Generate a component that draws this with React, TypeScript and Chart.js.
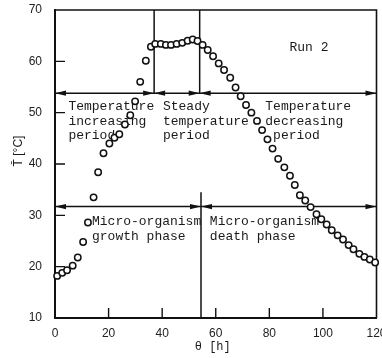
import React, { useEffect, useRef } from "react";
import { Chart, registerables } from "chart.js";

Chart.register(...registerables);

// θ [h]
const thetaHours = [
  0.8, 2.7, 4.5, 6.6, 8.5, 10.5, 12.3, 14.4, 16.1, 18.1,
  20.3, 22.2, 24.0, 26.1, 28.1, 29.9, 31.8, 33.9, 35.8, 37.4,
  39.5, 41.4, 43.3, 45.4, 47.5, 49.5, 51.4, 53.2, 55.1, 57.0,
  59.0, 61.1, 63.1, 65.4, 67.4, 69.3, 71.3, 73.3, 75.4, 77.3,
  79.3, 81.2, 83.3, 85.6, 87.7, 89.5, 91.4, 93.4, 95.4, 97.6,
  99.4, 101.4, 103.3, 105.5, 107.5, 109.6, 111.4, 113.6, 115.5, 117.5,
  119.5,
];
// mean temperature T̄ [°C]
const meanTemp = [
  18.2, 18.8, 19.3, 20.2, 21.8, 24.8, 28.6, 33.5, 38.4, 42.1,
  44.0, 45.1, 45.8, 47.7, 49.5, 52.2, 56.0, 60.1, 62.85, 63.4,
  63.4, 63.2, 63.2, 63.4, 63.6, 64.0, 64.25, 63.95, 63.2, 62.2,
  61.0, 59.6, 58.3, 56.8, 54.9, 53.2, 51.5, 50.0, 48.4, 46.6,
  44.8, 43.0, 41.0, 39.35, 37.7, 35.9, 33.9, 32.9, 31.6, 30.2,
  29.25, 28.2, 27.1, 26.1, 25.3, 24.2, 23.4, 22.5, 21.9, 21.4,
  20.8,
];

const xTickValues = [0, 20, 40, 60, 80, 100, 120];
const yTickValues = [10, 20, 30, 40, 50, 60, 70];

// period / phase boundaries (θ) and arrow levels (T)
const periodBoundaries = [37, 54];
const phaseBoundary = 54.5;
const periodArrowLevel = 53.8;
const phaseArrowLevel = 31.7;
const phaseBoundaryTop = 34.5;

const periodTexts = [
  ["Temperature", "increasing", "period"],
  ["Steady", "temperature", "period"],
  ["Temperature", "decreasing", " period"],
];
const periodTextTheta = [5, 40.3, 78.5];
const phaseTexts = [
  ["Micro-organism", "growth phase"],
  ["Micro-organism", "death phase"],
];
const phaseTextTheta = [13.8, 57.8];
const runLabel = "Run 2";
const runLabelTheta = 87.5;
const runLabelTemp = 62.7;
const xTitle = "θ [h]";
const yTitle = "T\u0304 [°C]";

const MONO = "Liberation Mono, Courier New, monospace";
const SANS = "Liberation Sans, Arial, sans-serif";

function arrowHead(ctx: CanvasRenderingContext2D, tipX: number, y: number, dir: number) {
  const len = 11;
  const half = 2.6;
  ctx.beginPath();
  ctx.moveTo(tipX, y);
  ctx.lineTo(tipX - dir * len, y - half);
  ctx.lineTo(tipX - dir * len, y + half);
  ctx.closePath();
  ctx.fill();
}

const annotationPlugin = {
  id: "annotations",
  beforeDatasetsDraw(chart: any) {
    const { ctx, chartArea } = chart;
    const xs = chart.scales.x;
    const ys = chart.scales.y;
    const { left, right, top, bottom } = chartArea;
    ctx.save();
    ctx.strokeStyle = "#111";
    ctx.fillStyle = "#111";

    // frame top & right
    ctx.lineWidth = 1.6;
    ctx.beginPath();
    ctx.moveTo(left, top);
    ctx.lineTo(right, top);
    ctx.lineTo(right, bottom);
    ctx.stroke();

    // inward ticks
    ctx.lineWidth = 1.4;
    ctx.beginPath();
    yTickValues.forEach((v) => {
      if (v === 10 || v === 70) return;
      const y = ys.getPixelForValue(v);
      ctx.moveTo(left, y);
      ctx.lineTo(left + 10, y);
    });
    xTickValues.forEach((v) => {
      if (v === 0 || v === 120) return;
      const x = xs.getPixelForValue(v);
      ctx.moveTo(x, bottom);
      ctx.lineTo(x, bottom - 10);
    });
    ctx.stroke();

    // period lines
    const yP = ys.getPixelForValue(periodArrowLevel);
    const yM = ys.getPixelForValue(phaseArrowLevel);
    ctx.lineWidth = 1.5;
    ctx.beginPath();
    ctx.moveTo(left, yP);
    ctx.lineTo(right, yP);
    periodBoundaries.forEach((b) => {
      const x = xs.getPixelForValue(b);
      ctx.moveTo(x, top);
      ctx.lineTo(x, yP);
    });
    ctx.moveTo(left, yM);
    ctx.lineTo(right, yM);
    const xPh = xs.getPixelForValue(phaseBoundary);
    ctx.moveTo(xPh, ys.getPixelForValue(phaseBoundaryTop));
    ctx.lineTo(xPh, bottom);
    ctx.stroke();

    // arrowheads
    arrowHead(ctx, left, yP, -1);
    arrowHead(ctx, right, yP, 1);
    periodBoundaries.forEach((b) => {
      const x = xs.getPixelForValue(b);
      arrowHead(ctx, x, yP, 1);
      arrowHead(ctx, x, yP, -1);
    });
    arrowHead(ctx, left, yM, -1);
    arrowHead(ctx, right, yM, 1);
    arrowHead(ctx, xPh, yM, 1);
    arrowHead(ctx, xPh, yM, -1);

    // texts
    ctx.font = `13px ${MONO}`;
    ctx.textAlign = "left";
    ctx.textBaseline = "middle";
    ctx.fillStyle = "#1a1a1a";
    periodTexts.forEach((lines, i) => {
      const x = xs.getPixelForValue(periodTextTheta[i]);
      lines.forEach((t, j) => ctx.fillText(t, x, yP + 13.5 + j * 14.5));
    });
    phaseTexts.forEach((lines, i) => {
      const x = xs.getPixelForValue(phaseTextTheta[i]);
      lines.forEach((t, j) => ctx.fillText(t, x, yM + 15 + j * 14.5));
    });
    ctx.fillText(runLabel, xs.getPixelForValue(runLabelTheta), ys.getPixelForValue(runLabelTemp));
    ctx.restore();
  },
  afterDraw(chart: any) {
    const { ctx, chartArea } = chart;
    ctx.save();
    ctx.fillStyle = "#1a1a1a";
    ctx.textAlign = "center";
    ctx.textBaseline = "middle";
    ctx.font = `12px ${MONO}`;
    ctx.fillText(xTitle, (chartArea.left + chartArea.right) / 2 - 3, chartArea.bottom + 29);
    ctx.translate(19, (chartArea.top + chartArea.bottom) / 2 - 13);
    ctx.rotate(-Math.PI / 2);
    ctx.font = `12px ${SANS}`;
    ctx.fillText(yTitle, 0, 0);
    ctx.restore();
  },
};

export default function App() {
  const canvasRef = useRef<HTMLCanvasElement | null>(null);

  useEffect(() => {
    const canvas = canvasRef.current;
    if (!canvas) return;
    const data = thetaHours.map((x, i) => ({ x, y: meanTemp[i] }));
    const chart = new Chart(canvas, {
      type: "scatter",
      data: {
        datasets: [
          {
            data,
            pointRadius: 3.2,
            pointBorderWidth: 1.5,
            pointBorderColor: "#111",
            pointBackgroundColor: "#fff",
            showLine: false,
            clip: false as any,
          },
        ],
      },
      options: {
        animation: false,
        responsive: false,
        devicePixelRatio: 1,
        layout: { padding: { left: 0, right: 5, top: 10, bottom: 0 } },
        plugins: { legend: { display: false }, tooltip: { enabled: false } },
        scales: {
          x: {
            type: "linear",
            min: 0,
            max: 120,
            afterFit: (s: any) => {
              s.height = 40;
              s.paddingLeft = 0;
              s.paddingRight = 0;
            },
            afterBuildTicks: (s: any) => {
              s.ticks = xTickValues.map((v) => ({ value: v }));
            },
            grid: { display: false, drawTicks: false },
            border: { display: true, color: "#111", width: 2 },
            ticks: {
              padding: 8,
              color: "#222",
              font: { family: SANS, size: 12 },
              maxRotation: 0,
            },
          },
          y: {
            type: "linear",
            min: 10,
            max: 70,
            afterFit: (s: any) => {
              s.width = 55;
              s.paddingTop = 0;
              s.paddingBottom = 0;
            },
            afterBuildTicks: (s: any) => {
              s.ticks = yTickValues.map((v) => ({ value: v }));
            },
            grid: { display: false, drawTicks: false },
            border: { display: true, color: "#111", width: 2 },
            ticks: {
              padding: 13,
              color: "#222",
              font: { family: SANS, size: 12 },
            },
          },
        },
      },
      plugins: [annotationPlugin],
    });
    return () => chart.destroy();
  }, []);

  return (
    <div style={{ position: "absolute", left: 0, top: 0, width: 382, height: 358, background: "#fff" }}>
      <canvas ref={canvasRef} width={382} height={358} style={{ display: "block" }} />
    </div>
  );
}
